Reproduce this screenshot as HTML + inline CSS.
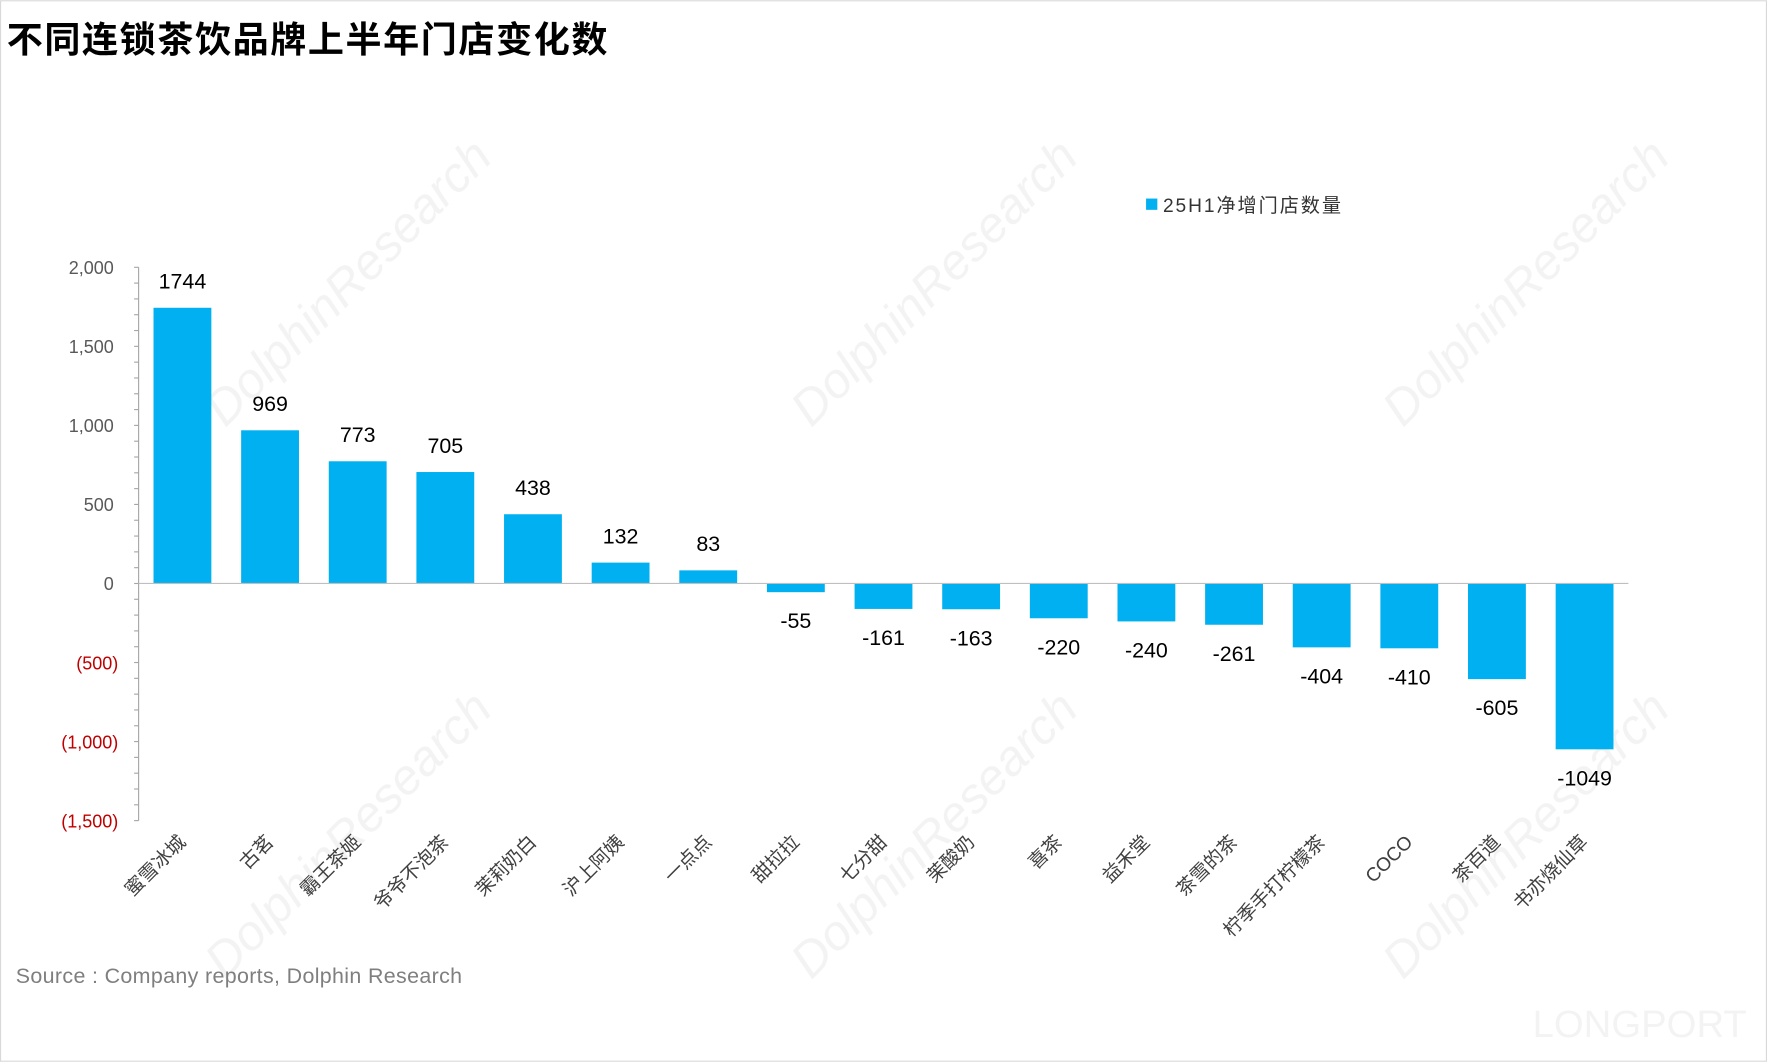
<!DOCTYPE html>
<html><head><meta charset="utf-8"><style>
html,body{margin:0;padding:0;background:#fff;}
svg{display:block;font-family:"Liberation Sans","Noto Sans CJK SC",sans-serif;}
</style></head><body>
<svg id="chart" width="1767" height="1062" viewBox="0 0 1568 942" xmlns="http://www.w3.org/2000/svg">
<rect x="0.5" y="0.5" width="1567" height="941" fill="#fff" stroke="#d9d9d9"/>
<text x="6" y="46" font-size="32" font-weight="bold" fill="#000" textLength="533">不同连锁茶饮品牌上半年门店变化数</text>
<g fill="#000" opacity="0.05" font-size="44" font-style="italic">
<text transform="translate(200,380) rotate(-45)">DolphinResearch</text>
<text transform="translate(720,380) rotate(-45)">DolphinResearch</text>
<text transform="translate(1245,380) rotate(-45)">DolphinResearch</text>
<text transform="translate(200,870) rotate(-45)">DolphinResearch</text>
<text transform="translate(720,870) rotate(-45)">DolphinResearch</text>
<text transform="translate(1245,870) rotate(-45)">DolphinResearch</text>
<text x="1360" y="920" font-style="normal" font-size="34">LONGPORT</text>
</g>
<g>
<rect x="1017" y="176" width="10" height="10" fill="#00b0f0"/>
<text x="1032" y="188" font-size="17" fill="#333" textLength="158">25H1净增门店数量</text>
</g>
<g id="plot"></g>
<text x="14" y="872" font-size="19" fill="#7f7f7f" textLength="396">Source : Company reports, Dolphin Research</text>
</svg>
<script>
const categories=["蜜雪冰城","古茗","霸王茶姬","爷爷不泡茶","茉莉奶白","沪上阿姨","一点点","甜拉拉","七分甜","茉酸奶","喜茶","益禾堂","茶雪的茶","柠季手打柠檬茶","COCO","茶百道","书亦烧仙草"];
const values=[1744,969,773,705,438,132,83,-55,-161,-163,-220,-240,-261,-404,-410,-605,-1049];
const yTicks=[2000,1500,1000,500,0,-500,-1000,-1500];
const yTickLabels=["2,000","1,500","1,000","500","0","(500)","(1,000)","(1,500)"];
const NS="http://www.w3.org/2000/svg";
const g=document.getElementById('plot');
const x0=123,x1=1445,yMax=2000,yMin=-1500,yTop=237,yBot=728;
function y(v){return yTop+(yMax-v)/(yMax-yMin)*(yBot-yTop);}
const band=(x1-x0)/categories.length;
function cx(i){return x0+band*(i+0.5);}
function el(t,a){const e=document.createElementNS(NS,t);for(const k in a)e.setAttribute(k,a[k]);g.appendChild(e);return e;}
const ax=el('line',{x1:x0,x2:x0,y1:y(yMax),y2:y(yMin),stroke:'#a6a6a6'});


for(let v=yMin;v<=yMax;v+=100){
  const t=el('line',{x1:x0-4,x2:x0,y1:y(v),y2:y(v),stroke:'#a6a6a6'});
  
  
}
yTicks.forEach((v,i)=>{
  const t=el('text',{x:v<0?105:101,y:y(v)+6,'text-anchor':'end','font-size':16,fill:v<0?'#c00000':'#595959'});
  t.textContent=yTickLabels[i];
  
  
});
const bw=band*0.66;
values.forEach((v,i)=>{
  const top=v>=0?y(v):y(0),h=Math.abs(y(v)-y(0));
  const r=el('rect',{x:cx(i)-bw/2,y:top,width:bw,height:h,fill:'#00b0f0'});
  
  
  const l=el('text',{x:cx(i),y:v>=0?y(v)-17:y(v)+32,'text-anchor':'middle','font-size':19,fill:'#000'});
  l.textContent=String(v);
  
  
  const c=el('text',{transform:`translate(${cx(i)+4},${748}) rotate(-45)`,'text-anchor':'end','font-size':17,fill:'#404040'});
  c.textContent=categories[i];
  
  
});
const zl=el('line',{x1:x0,x2:x1,y1:y(0),y2:y(0),stroke:'#bfbfbf'});


</script>
</body></html>
